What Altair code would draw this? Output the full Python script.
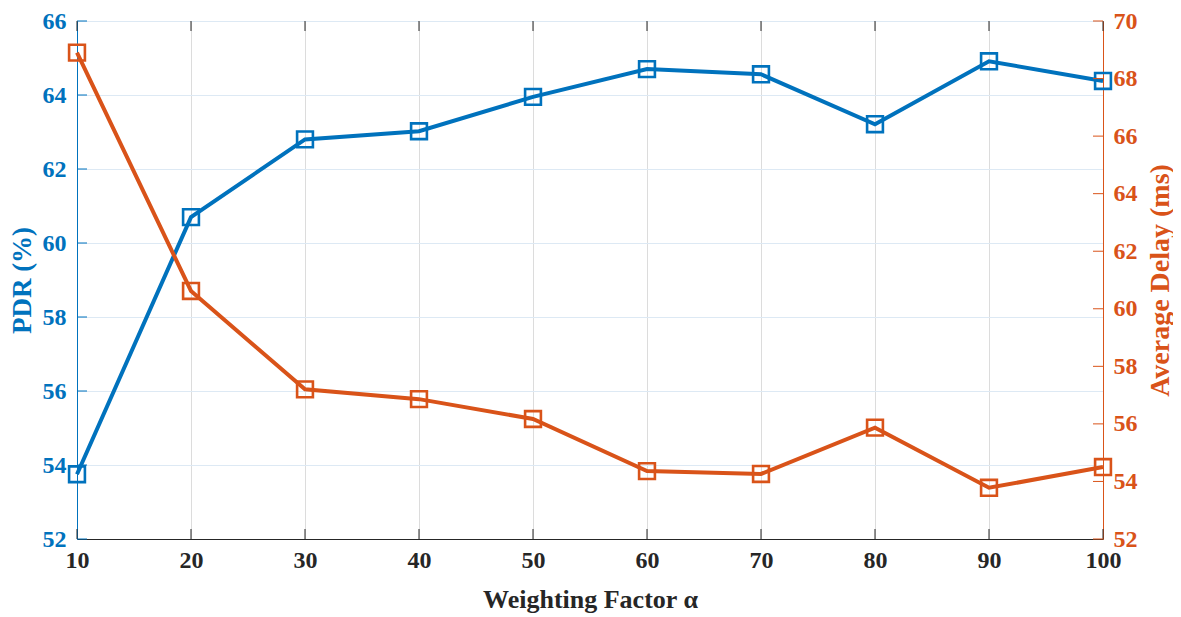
import altair as alt
import pandas as pd

# ---- data ----
alpha = [10, 20, 30, 40, 50, 60, 70, 80, 90, 100]
pdr = [53.75, 60.70, 62.80, 63.02, 63.95, 64.70, 64.56, 63.21, 64.91, 64.38]
delay = [68.90, 60.62, 57.20, 56.86, 56.17, 54.36, 54.26, 55.87, 53.78, 54.50]
x_ticks = [10, 20, 30, 40, 50, 60, 70, 80, 90, 100]
pdr_ticks = [52, 54, 56, 58, 60, 62, 64, 66]
delay_ticks = [52, 54, 56, 58, 60, 62, 64, 66, 68, 70]

BLUE = "#0072BD"
ORANGE = "#D95319"
DARK = "#262626"
FONT = "Liberation Serif"
W, H = 1026, 518

df = pd.DataFrame({"alpha": alpha, "pdr": pdr, "delay": delay})
df_xt = pd.DataFrame({"alpha": x_ticks})
df_lt = pd.DataFrame({"pdr": pdr_ticks})
df_rt = pd.DataFrame({"delay": delay_ticks})

xs = alt.Scale(domain=[10, 100], nice=False, zero=False)
yl = alt.Scale(domain=[52, 66], nice=False, zero=False)
yr = alt.Scale(domain=[52, 70], nice=False, zero=False)

x_axis = alt.Axis(
    title="Weighting Factor α", values=x_ticks, format="d", grid=True,
    gridColor="#dcdcdc", gridWidth=1, ticks=False, domainColor=DARK, domainWidth=1,
    labelFont=FONT, labelFontSize=24, labelFontWeight="bold", labelColor=DARK,
    labelPadding=9, labelFlush=False, labelOverlap=False,
    titleFont=FONT, titleFontSize=26, titleFontWeight="bold",
    titleColor=DARK, titlePadding=14,
)
left_axis = alt.Axis(
    title="PDR (%)", orient="left", values=pdr_ticks, format="d", grid=True,
    gridColor="#dde9f4", gridWidth=1, ticks=False, domainColor=BLUE, domainWidth=1,
    labelFont=FONT, labelFontSize=24, labelFontWeight="bold", labelColor=BLUE,
    labelPadding=11, labelFlush=False,
    titleFont=FONT, titleFontSize=27, titleFontWeight="bold",
    titleColor=BLUE, titlePadding=6,
)
right_axis = alt.Axis(
    title="Average Delay (ms)", orient="right", values=delay_ticks, format="d",
    grid=False, ticks=False, domainColor=ORANGE, domainWidth=1,
    labelFont=FONT, labelFontSize=24, labelFontWeight="bold", labelColor=ORANGE,
    labelPadding=10, labelFlush=False,
    titleFont=FONT, titleFontSize=28, titleFontWeight="bold",
    titleColor=ORANGE, titlePadding=9, titleAngle=270, titleBaseline="top",
)

X = alt.X("alpha:Q", scale=xs, axis=x_axis)

# left (PDR) group
l_line = alt.Chart(df).mark_line(color=BLUE, strokeWidth=4).encode(
    x=X, y=alt.Y("pdr:Q", scale=yl, axis=left_axis)
)
l_pts = alt.Chart(df).mark_point(
    shape="square", filled=False, size=250, strokeWidth=2.6, color=BLUE, opacity=1
).encode(x=X, y=alt.Y("pdr:Q", scale=yl, axis=left_axis))
l_ticks = alt.Chart(df_lt).mark_rule(color=BLUE, strokeWidth=1).encode(
    y=alt.Y("pdr:Q", scale=yl, axis=left_axis), x=alt.value(0), x2=alt.value(10)
)
xb_ticks = alt.Chart(df_xt).mark_rule(color=DARK, strokeWidth=1).encode(
    x=X, y=alt.value(H), y2=alt.value(H - 10)
)
xt_ticks = alt.Chart(df_xt).mark_rule(color=DARK, strokeWidth=1).encode(
    x=X, y=alt.value(0), y2=alt.value(10)
)
left = alt.layer(l_line, l_ticks, xb_ticks, xt_ticks, l_pts)

# right (delay) group
r_line = alt.Chart(df).mark_line(color=ORANGE, strokeWidth=4).encode(
    x=X, y=alt.Y("delay:Q", scale=yr, axis=right_axis)
)
r_pts = alt.Chart(df).mark_point(
    shape="square", filled=False, size=250, strokeWidth=2.6, color=ORANGE, opacity=1
).encode(x=X, y=alt.Y("delay:Q", scale=yr, axis=right_axis))
r_ticks = alt.Chart(df_rt).mark_rule(color=ORANGE, strokeWidth=1).encode(
    y=alt.Y("delay:Q", scale=yr, axis=right_axis), x=alt.value(W), x2=alt.value(W - 10)
)
right = alt.layer(r_line, r_ticks, r_pts)

chart = (
    alt.layer(left, right)
    .resolve_scale(y="independent")
    .properties(
        width=W, height=H,
        autosize=alt.AutoSizeParams(type="none"),
        padding={"left": 69, "top": 13, "right": 70, "bottom": 76},
        background="white",
    )
    .configure_view(stroke=DARK, strokeWidth=1)
)

chart.save("out.html", embed_options={"renderer": "svg", "actions": False})
